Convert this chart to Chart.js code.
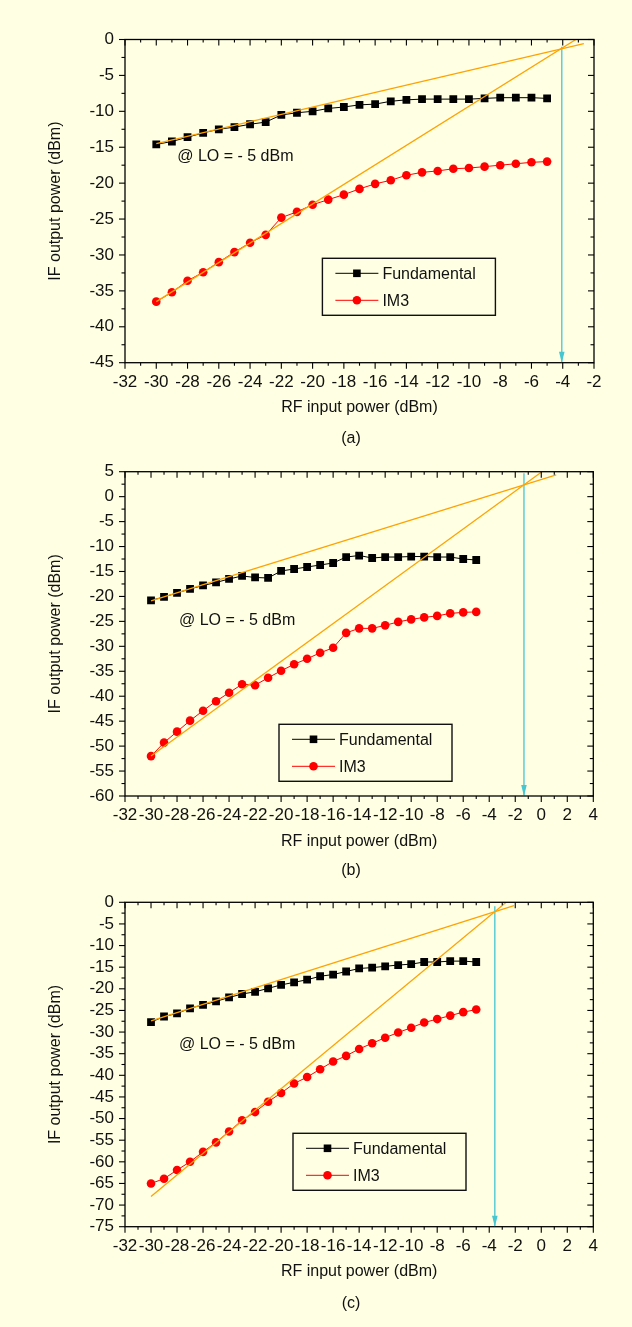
<!DOCTYPE html>
<html lang="en">
<head>
  <meta charset="UTF-8" />
  <title>IF output power vs RF input power</title>
  <script src="https://cdn.jsdelivr.net/npm/chart.js"></script>
  <style>
    body { margin: 0; background: #FFFFE3; }
    #page { position: relative; width: 632px; height: 1327px; background: #FFFFE3; font-family: "Liberation Sans", Arial, sans-serif; overflow: hidden; }
    #page canvas { position: absolute; left: 0; }
    .cap { position: absolute; width: 80px; text-align: center; font-size: 16px; line-height: 18px; color: #111; }
  </style>
</head>
<body>
<div id="page">
  <canvas id="chartA" width="632" height="440" style="top:0px"></canvas>
  <div class="cap" style="left:311px; top:429px">(a)</div>
  <canvas id="chartB" width="632" height="440" style="top:440px"></canvas>
  <div class="cap" style="left:311px; top:861px">(b)</div>
  <canvas id="chartC" width="632" height="447" style="top:880px"></canvas>
  <div class="cap" style="left:311px; top:1294px">(c)</div>
</div>

<script>
  // RF input power (dBm) - same sweep for all three panels
  const rfInput = [-30, -29, -28, -27, -26, -25, -24, -23, -22, -21, -20, -19, -18, -17, -16, -15, -14, -13, -12, -11, -10, -9, -8, -7, -6, -5];

  // panel (a)
  const fundA = [-14.6, -14.2, -13.6, -13.0, -12.5, -12.2, -11.8, -11.5, -10.5, -10.2, -10.0, -9.6, -9.4, -9.1, -9.0, -8.6, -8.4, -8.3, -8.3, -8.3, -8.3, -8.2, -8.1, -8.1, -8.1, -8.2];
  const im3A = [-36.5, -35.2, -33.6, -32.4, -31.0, -29.6, -28.3, -27.2, -24.8, -24.0, -23.0, -22.3, -21.6, -20.8, -20.1, -19.6, -18.9, -18.5, -18.3, -18.0, -17.9, -17.7, -17.5, -17.3, -17.1, -17.0];
  const fitFundA = [[-30, -14.5], [-2.65, -0.58]];
  const fitIm3A = [[-30, -36.5], [-3.16, 0]];
  const iipA = [[-4.06, -1.0], [-4.06, -45]];

  // panel (b)
  const fundB = [-20.8, -20.1, -19.3, -18.5, -17.8, -17.2, -16.5, -15.9, -16.2, -16.3, -14.9, -14.5, -14.1, -13.7, -13.3, -12.1, -11.8, -12.3, -12.1, -12.1, -12.0, -12.0, -12.1, -12.1, -12.5, -12.7];
  const im3B = [-52.0, -49.3, -47.1, -44.9, -42.9, -41.0, -39.3, -37.6, -37.8, -36.3, -34.9, -33.6, -32.5, -31.3, -30.3, -27.3, -26.4, -26.4, -25.8, -25.1, -24.6, -24.2, -23.9, -23.4, -23.2, -23.1];
  const fitFundB = [[-30, -20.9], [1.15, 4.34]];
  const fitIm3B = [[-30, -52.0], [0.05, 5]];
  const iipB = [[-1.33, 4.7], [-1.33, -60]];

  // panel (c)
  const fundC = [-27.7, -26.4, -25.7, -24.5, -23.7, -22.9, -22.0, -21.2, -20.7, -19.9, -19.1, -18.5, -17.9, -17.1, -16.7, -16.0, -15.3, -15.1, -14.8, -14.5, -14.3, -13.8, -13.8, -13.6, -13.6, -13.8];
  const im3C = [-65.0, -63.9, -61.9, -60.0, -57.7, -55.5, -53.0, -50.4, -48.5, -46.1, -44.1, -41.9, -40.4, -38.6, -36.8, -35.5, -33.9, -32.6, -31.3, -30.1, -29.0, -27.8, -27.0, -26.2, -25.4, -24.8];
  const fitFundC = [[-30, -27.4], [-2.1, -0.78]];
  const fitIm3C = [[-30, -68.0], [-2.7, 0]];
  const iipC = [[-3.57, -0.9], [-3.57, -75]];

  // tick labels
  const xTicksA = [-32, -30, -28, -26, -24, -22, -20, -18, -16, -14, -12, -10, -8, -6, -4, -2];
  const xTicksBC = [-32, -30, -28, -26, -24, -22, -20, -18, -16, -14, -12, -10, -8, -6, -4, -2, 0, 2, 4];
  const yTicksA = [0, -5, -10, -15, -20, -25, -30, -35, -40, -45];
  const yTicksB = [5, 0, -5, -10, -15, -20, -25, -30, -35, -40, -45, -50, -55, -60];
  const yTicksC = [0, -5, -10, -15, -20, -25, -30, -35, -40, -45, -50, -55, -60, -65, -70, -75];

  const loText = '@ LO = - 5 dBm';
  const ORANGE = '#FFA200';
  const CYAN = '#45C6D0';

  const toPts = (xs, ys) => xs.map((x, i) => ({ x, y: ys[i] }));
  const pairPts = p => p.map(([x, y]) => ({ x, y }));

  // frame, tick marks (major + minor), annotation, legend box and arrow head
  const extras = {
    id: 'extras',
    afterDraw(chart, args, o) {
      const { ctx, chartArea: a, scales: { x, y } } = chart;
      ctx.save();
      ctx.strokeStyle = '#000';
      ctx.lineWidth = 1.3;
      ctx.strokeRect(a.left, a.top, a.right - a.left, a.bottom - a.top);

      ctx.lineWidth = 1.1;
      const tick = (x1, y1, x2, y2) => { ctx.beginPath(); ctx.moveTo(x1, y1); ctx.lineTo(x2, y2); ctx.stroke(); };
      const xv = x.ticks.map(t => t.value);
      const yv = y.ticks.map(t => t.value);
      const mids = v => v.slice(1).map((t, i) => (t + v[i]) / 2);
      [[xv, 6], [mids(xv), 3]].forEach(([vals, len]) => vals.forEach(v => {
        const px = x.getPixelForValue(v);
        tick(px, a.bottom, px, a.bottom + len);
        tick(px, a.top, px, a.top + len);
      }));
      [[yv, 6], [mids(yv), 3.5]].forEach(([vals, len]) => vals.forEach(v => {
        const py = y.getPixelForValue(v);
        tick(a.left - len, py, a.left, py);
        tick(a.right, py, a.right - len, py);
      }));

      // arrow head of the cyan IIP3 marker
      const ax = x.getPixelForValue(o.arrowX);
      ctx.fillStyle = CYAN;
      ctx.beginPath();
      ctx.moveTo(ax, a.bottom);
      ctx.lineTo(ax - 2.8, a.bottom - 11);
      ctx.lineTo(ax + 2.8, a.bottom - 11);
      ctx.closePath();
      ctx.fill();

      // "@ LO" note
      ctx.fillStyle = '#111';
      ctx.font = '16px "Liberation Sans", Arial, sans-serif';
      ctx.textBaseline = 'middle';
      ctx.textAlign = 'left';
      ctx.fillText(loText, x.getPixelForValue(o.noteX), y.getPixelForValue(o.noteY));

      // legend box
      const bx = a.left + o.box[0], by = a.top + o.box[1];
      ctx.strokeStyle = '#111';
      ctx.lineWidth = 1.4;
      ctx.strokeRect(bx, by, 173, 57);
      o.entries.forEach((idx, k) => {
        const ds = chart.data.datasets[idx];
        const ry = by + 15 + k * 27;
        ctx.strokeStyle = ds.borderColor;
        ctx.lineWidth = 1;
        tick(bx + 13, ry, bx + 56, ry);
        ctx.fillStyle = ds.pointBackgroundColor;
        if (ds.pointStyle === 'rect') {
          ctx.fillRect(bx + 34.5 - 3.8, ry - 3.8, 7.6, 7.6);
        } else {
          ctx.beginPath();
          ctx.arc(bx + 34.5, ry, 4.3, 0, Math.PI * 2);
          ctx.fill();
        }
        ctx.fillStyle = '#111';
        ctx.fillText(ds.label, bx + 60, ry + 1);
      });
      ctx.restore();
    }
  };

  function makeChart(id, p) {
    const datasets = [
      { label: 'fit fundamental', data: pairPts(p.fitFund), borderColor: ORANGE, borderWidth: 1.3, pointRadius: 0, order: 0 },
      { label: 'fit IM3', data: pairPts(p.fitIm3), borderColor: ORANGE, borderWidth: 1.3, pointRadius: 0, order: 0 },
      { label: 'IIP3', data: pairPts(p.iip), borderColor: CYAN, borderWidth: 1.3, pointRadius: 0, order: 1 },
      { label: 'Fundamental', data: toPts(rfInput, p.fund), borderColor: '#000', borderWidth: 1,
        pointStyle: 'rect', pointRadius: 5.5, pointBackgroundColor: '#000', pointBorderColor: '#000', pointBorderWidth: 0, order: 2 },
      { label: 'IM3', data: toPts(rfInput, p.im3), borderColor: '#FF0000', borderWidth: 1,
        pointStyle: 'circle', pointRadius: 4.3, pointBackgroundColor: '#FF0000', pointBorderColor: '#FF0000', pointBorderWidth: 0, order: 2 }
    ];
    return new Chart(document.getElementById(id), {
      type: 'line',
      data: { datasets },
      plugins: [extras],
      options: {
        responsive: false,
        animation: false,
        events: [],
        layout: { padding: { top: p.top, right: p.right, bottom: 0, left: 0 } },
        plugins: {
          legend: { display: false },
          tooltip: { enabled: false },
          extras: { arrowX: p.iip[0][0], noteX: p.note[0], noteY: p.note[1], box: p.box, entries: [3, 4] }
        },
        scales: {
          x: {
            type: 'linear', min: p.xTicks[0], max: p.xTicks[p.xTicks.length - 1],
            afterBuildTicks: s => { s.ticks = p.xTicks.map(v => ({ value: v })); },
            afterFit: s => { s.height = p.xAxisH; },
            ticks: { color: '#111', font: { size: 17, family: '"Liberation Sans", Arial, sans-serif' }, padding: 9.5, maxRotation: 0, autoSkip: false },
            grid: { display: false, drawTicks: false, tickLength: 0 },
            border: { display: false },
            title: { display: true, text: 'RF input power (dBm)', color: '#111',
              font: { size: 16, family: '"Liberation Sans", Arial, sans-serif' }, padding: { top: 0, bottom: p.xTitlePad } }
          },
          y: {
            type: 'linear', min: p.yTicks[p.yTicks.length - 1], max: p.yTicks[0],
            afterBuildTicks: s => { s.ticks = p.yTicks.slice().reverse().map(v => ({ value: v })); },
            afterFit: s => { s.width = 125; },
            ticks: { color: '#111', font: { size: 17, family: '"Liberation Sans", Arial, sans-serif' }, padding: 11, autoSkip: false },
            grid: { display: false, drawTicks: false, tickLength: 0 },
            border: { display: false },
            title: { display: true, text: 'IF output power (dBm)', color: '#111',
              font: { size: 16, family: '"Liberation Sans", Arial, sans-serif' }, padding: { top: 46, bottom: 0 } }
          }
        }
      }
    });
  }

  makeChart('chartA', { fund: fundA, im3: im3A, fitFund: fitFundA, fitIm3: fitIm3A, iip: iipA,
    xTicks: xTicksA, yTicks: yTicksA, top: 39.5, right: 38, xAxisH: 77.3, xTitlePad: 22.4,
    note: [-28.66, -16.35], box: [197.4, 218.8] });
  makeChart('chartB', { fund: fundB, im3: im3B, fitFund: fitFundB, fitIm3: fitIm3B, iip: iipB,
    xTicks: xTicksBC, yTicks: yTicksB, top: 31.7, right: 38.7, xAxisH: 84, xTitlePad: 28.7,
    note: [-27.85, -24.8], box: [154, 252.6] });
  makeChart('chartC', { fund: fundC, im3: im3C, fitFund: fitFundC, fitIm3: fitIm3C, iip: iipC,
    xTicks: xTicksBC, yTicks: yTicksC, top: 22.3, right: 38.7, xAxisH: 100.3, xTitlePad: 45.7,
    note: [-27.85, -32.8], box: [168, 231] });
</script>
</body>
</html>
